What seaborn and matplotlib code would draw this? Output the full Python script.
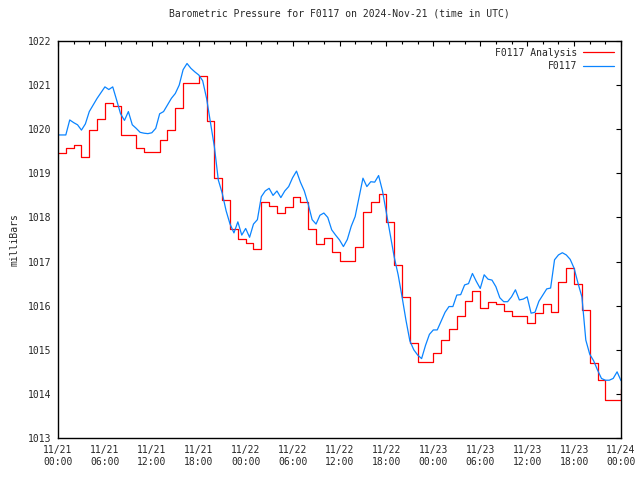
import numpy as np
import pandas as pd
import matplotlib
matplotlib.use("Agg")
import matplotlib.pyplot as plt
import seaborn as sns

# Hourly analysis values (hours since 2024-11-21 00:00 UTC)
analysis_hours = list(range(0, 73))
analysis_mb = [
    1019.45, 1019.57, 1019.64, 1019.36, 1019.98, 1020.23, 1020.59, 1020.53,
    1019.88, 1019.88, 1019.57, 1019.48, 1019.48, 1019.76, 1019.98, 1020.47,
    1021.04, 1021.04, 1021.21, 1020.19, 1018.90, 1018.40, 1017.74, 1017.51,
    1017.41, 1017.28, 1018.34, 1018.26, 1018.09, 1018.23, 1018.46, 1018.36,
    1017.74, 1017.39, 1017.53, 1017.21, 1017.01, 1017.01, 1017.34, 1018.13,
    1018.36, 1018.53, 1017.90, 1016.92, 1016.20, 1015.16, 1014.73, 1014.73,
    1014.92, 1015.22, 1015.46, 1015.77, 1016.11, 1016.34, 1015.95, 1016.09,
    1016.04, 1015.88, 1015.77, 1015.77, 1015.60, 1015.83, 1016.04, 1015.86,
    1016.54, 1016.85, 1016.49, 1015.90, 1014.71, 1014.31, 1013.86, 1013.86,
    1014.10,
]

# Station observations, half-hourly
obs_hours = [h / 2 for h in range(0, 145)]
obs_mb = [
    1019.87, 1019.87, 1019.87, 1020.21, 1020.15, 1020.10, 1019.98, 1020.12,
    1020.40, 1020.55, 1020.70, 1020.83, 1020.96, 1020.90, 1020.96, 1020.66,
    1020.35, 1020.20, 1020.40, 1020.10, 1020.02, 1019.93, 1019.91, 1019.90,
    1019.92, 1020.02, 1020.35, 1020.40, 1020.55, 1020.70, 1020.81, 1021.00,
    1021.35, 1021.49, 1021.38, 1021.30, 1021.23, 1021.10, 1020.70, 1020.15,
    1019.60, 1018.85, 1018.55, 1018.15, 1017.85, 1017.65, 1017.90, 1017.60,
    1017.75, 1017.55, 1017.85, 1017.95, 1018.47, 1018.60, 1018.66, 1018.50,
    1018.60, 1018.45, 1018.60, 1018.70, 1018.90, 1019.05, 1018.80, 1018.60,
    1018.30, 1017.95, 1017.85, 1018.05, 1018.10, 1018.00, 1017.72, 1017.60,
    1017.49, 1017.34, 1017.50, 1017.80, 1018.02, 1018.45, 1018.89, 1018.70,
    1018.81, 1018.80, 1018.95, 1018.60, 1018.10, 1017.60, 1017.10, 1016.70,
    1016.20, 1015.67, 1015.20, 1015.00, 1014.88, 1014.80, 1015.10, 1015.35,
    1015.45, 1015.45, 1015.65, 1015.85, 1015.98, 1015.98, 1016.24, 1016.25,
    1016.47, 1016.50, 1016.73, 1016.55, 1016.39, 1016.70, 1016.60, 1016.58,
    1016.43, 1016.18, 1016.09, 1016.09, 1016.20, 1016.36, 1016.13, 1016.15,
    1016.20, 1015.83, 1015.85, 1016.10, 1016.24, 1016.38, 1016.40, 1017.04,
    1017.15, 1017.20, 1017.15, 1017.05, 1016.85, 1016.51, 1016.20, 1015.22,
    1014.90, 1014.75, 1014.54, 1014.35, 1014.31, 1014.31, 1014.35, 1014.50,
    1014.30,
]

tick_hours = list(range(0, 73, 6))
minor_hours = [h for h in range(0, 73, 2) if h % 6 != 0]
tick_labels = [
    "11/21\n00:00", "11/21\n06:00", "11/21\n12:00", "11/21\n18:00",
    "11/22\n00:00", "11/22\n06:00", "11/22\n12:00", "11/22\n18:00",
    "11/23\n00:00", "11/23\n06:00", "11/23\n12:00", "11/23\n18:00",
    "11/24\n00:00",
]
y_ticks = list(range(1013, 1023))

analysis = pd.DataFrame({"hour": analysis_hours, "mb": analysis_mb})
obs = pd.DataFrame({"hour": obs_hours, "mb": obs_mb})

sns.set_style("white")
plt.rcParams["font.family"] = ["DejaVu Sans Mono"]
plt.rcParams["font.size"] = 7

fig = plt.figure(figsize=(6.4, 4.8), dpi=100)
ax = fig.add_axes([58 / 640, 1 - 438 / 480, 563 / 640, 397 / 480])

sns.lineplot(data=analysis, x="hour", y="mb", ax=ax, color="#ff0000",
             linewidth=0.9, drawstyle="steps-post", label="F0117 Analysis")
sns.lineplot(data=obs, x="hour", y="mb", ax=ax, color="#0a84ff",
             linewidth=0.9, label="F0117")

ax.set_xlim(0, 72)
ax.set_ylim(1013, 1022)
ax.set_xticks(tick_hours)
ax.set_xticklabels(tick_labels)
ax.set_xticks(minor_hours, minor=True)
ax.set_yticks(y_ticks)
ax.set_xlabel("")
ax.set_ylabel("milliBars")
ax.yaxis.set_label_coords(-0.068, 0.5)
ax.tick_params(which="both", direction="in", top=True, right=True,
               color="black", width=0.8)
ax.tick_params(which="major", length=3.5, pad=5)
ax.tick_params(which="minor", length=1.8)
for s in ax.spines.values():
    s.set_color("black")
    s.set_linewidth(1.0)

ax.set_title("Barometric Pressure for F0117 on 2024-Nov-21 (time in UTC)",
             fontsize=7, pad=18)

leg = ax.legend(loc="upper right", frameon=False, markerfirst=False,
                handlelength=3.2, handletextpad=0.6, borderaxespad=0.3,
                labelspacing=0.35)
for t in leg.get_texts():
    t.set_ha("right")

fig.savefig("out.png", dpi=100)
